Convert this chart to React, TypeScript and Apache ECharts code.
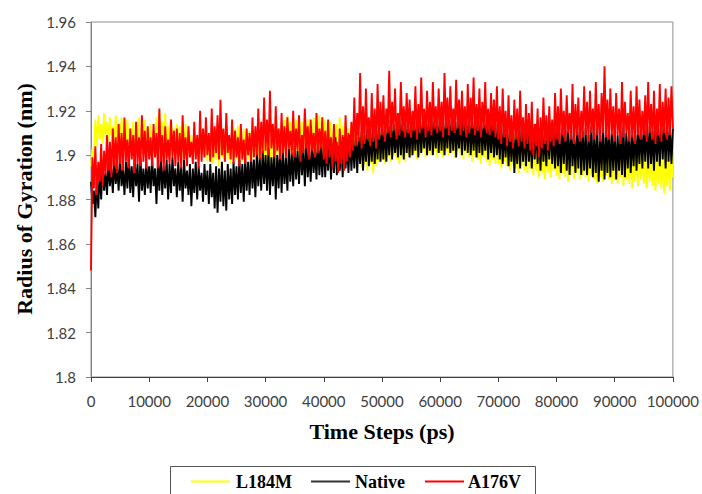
import React, { useEffect, useRef } from "react";
import * as echarts from "echarts";

// Time step between stored samples (ps)
const STEP = 250;

const xTicks = [0, 10000, 20000, 30000, 40000, 50000, 60000, 70000, 80000, 90000, 100000];
const yTicks = [1.8, 1.82, 1.84, 1.86, 1.88, 1.9, 1.92, 1.94, 1.96];

const seriesNames = ["L184M", "Native", "A176V"];
const seriesColors = ["#FFFF00", "#000000", "#FF0000"];

const l184m = [
  1.895, 1.903, 1.899, 1.916, 1.904, 1.918, 1.907, 1.914, 1.905, 1.919, 1.908, 1.915, 1.906, 1.917, 1.909, 1.913, 1.905, 1.918, 1.907, 1.914,
  1.904, 1.917, 1.906, 1.913, 1.903, 1.916, 1.905, 1.912, 1.902, 1.915, 1.904, 1.911, 1.903, 1.917, 1.901, 1.913, 1.904, 1.916, 1.902, 1.912,
  1.9, 1.914, 1.903, 1.911, 1.899, 1.917, 1.902, 1.92, 1.9, 1.915, 1.903, 1.919, 1.901, 1.913, 1.899, 1.916, 1.902, 1.912, 1.9, 1.914,
  1.901, 1.913, 1.898, 1.91, 1.902, 1.914, 1.899, 1.911, 1.901, 1.909, 1.897, 1.912, 1.9, 1.908, 1.898, 1.911, 1.901, 1.909, 1.899, 1.912,
  1.897, 1.907, 1.899, 1.905, 1.896, 1.909, 1.898, 1.906, 1.895, 1.908, 1.899, 1.904, 1.897, 1.91, 1.898, 1.907, 1.896, 1.911, 1.899, 1.912,
  1.898, 1.913, 1.9, 1.91, 1.897, 1.912, 1.899, 1.909, 1.898, 1.911, 1.896, 1.908, 1.899, 1.91, 1.897, 1.907, 1.899, 1.909, 1.898, 1.906,
  1.897, 1.905, 1.899, 1.907, 1.896, 1.906, 1.898, 1.909, 1.9, 1.912, 1.899, 1.914, 1.901, 1.916, 1.9, 1.918, 1.902, 1.915, 1.901, 1.917,
  1.902, 1.916, 1.9, 1.918, 1.903, 1.915, 1.901, 1.919, 1.9, 1.916, 1.902, 1.914, 1.901, 1.917, 1.899, 1.915, 1.902, 1.918, 1.9, 1.914,
  1.901, 1.916, 1.903, 1.913, 1.9, 1.915, 1.902, 1.912, 1.899, 1.914, 1.901, 1.917, 1.898, 1.913, 1.9, 1.915, 1.897, 1.912, 1.899, 1.914,
  1.897, 1.911, 1.895, 1.913, 1.898, 1.909, 1.894, 1.912, 1.896, 1.91, 1.893, 1.913, 1.896, 1.911, 1.892, 1.909, 1.895, 1.912, 1.897, 1.91,
  1.898, 1.912, 1.896, 1.91, 1.899, 1.913, 1.897, 1.911, 1.9, 1.914, 1.898, 1.912, 1.896, 1.91, 1.899, 1.913, 1.897, 1.911, 1.9, 1.914,
  1.899, 1.913, 1.901, 1.911, 1.898, 1.914, 1.9, 1.912, 1.902, 1.915, 1.899, 1.913, 1.901, 1.916, 1.9, 1.912, 1.902, 1.914, 1.899, 1.913,
  1.901, 1.914, 1.899, 1.912, 1.902, 1.915, 1.9, 1.913, 1.901, 1.916, 1.899, 1.912, 1.902, 1.914, 1.9, 1.913, 1.898, 1.915, 1.901, 1.912,
  1.899, 1.913, 1.897, 1.911, 1.9, 1.914, 1.898, 1.912, 1.896, 1.91, 1.899, 1.913, 1.897, 1.911, 1.895, 1.909, 1.898, 1.912, 1.896, 1.91,
  1.896, 1.91, 1.894, 1.908, 1.897, 1.911, 1.895, 1.909, 1.893, 1.907, 1.896, 1.91, 1.894, 1.908, 1.892, 1.906, 1.895, 1.909, 1.893, 1.907,
  1.892, 1.906, 1.894, 1.908, 1.891, 1.905, 1.893, 1.907, 1.89, 1.904, 1.892, 1.906, 1.889, 1.905, 1.892, 1.907, 1.89, 1.904, 1.893, 1.906,
  1.891, 1.905, 1.889, 1.903, 1.892, 1.906, 1.89, 1.904, 1.888, 1.903, 1.891, 1.906, 1.889, 1.904, 1.892, 1.905, 1.889, 1.903, 1.891, 1.906,
  1.89, 1.904, 1.888, 1.906, 1.891, 1.903, 1.889, 1.905, 1.887, 1.904, 1.89, 1.906, 1.888, 1.903, 1.891, 1.905, 1.889, 1.904, 1.887, 1.903,
  1.889, 1.905, 1.887, 1.903, 1.89, 1.904, 1.886, 1.902, 1.889, 1.905, 1.887, 1.903, 1.885, 1.901, 1.888, 1.904, 1.886, 1.902, 1.889, 1.903,
  1.887, 1.902, 1.885, 1.9, 1.888, 1.903, 1.886, 1.901, 1.884, 1.899, 1.887, 1.902, 1.885, 1.9, 1.883, 1.901, 1.886, 1.899, 1.884, 1.902,
  1.89,
];

const native = [
  1.888, 1.878, 1.884, 1.872, 1.89, 1.876, 1.893, 1.88, 1.896, 1.884, 1.892, 1.882, 1.897, 1.886, 1.894, 1.883, 1.898, 1.887, 1.895, 1.884,
  1.899, 1.886, 1.894, 1.882, 1.897, 1.885, 1.9, 1.883, 1.895, 1.881, 1.898, 1.886, 1.896, 1.879, 1.899, 1.884, 1.894, 1.882, 1.897, 1.885,
  1.895, 1.883, 1.899, 1.886, 1.894, 1.878, 1.897, 1.884, 1.9, 1.882, 1.895, 1.885, 1.898, 1.88, 1.896, 1.883, 1.899, 1.886, 1.894, 1.881,
  1.897, 1.884, 1.895, 1.879, 1.898, 1.885, 1.893, 1.882, 1.896, 1.877, 1.894, 1.883, 1.897, 1.88, 1.895, 1.884, 1.892, 1.879, 1.896, 1.882,
  1.893, 1.878, 1.896, 1.881, 1.892, 1.876, 1.895, 1.874, 1.894, 1.879, 1.897, 1.877, 1.893, 1.875, 1.896, 1.88, 1.894, 1.878, 1.897, 1.882,
  1.895, 1.88, 1.898, 1.883, 1.896, 1.879, 1.899, 1.884, 1.897, 1.882, 1.9, 1.885, 1.898, 1.881, 1.901, 1.886, 1.899, 1.884, 1.902, 1.887,
  1.9, 1.884, 1.903, 1.882, 1.899, 1.886, 1.902, 1.88, 1.9, 1.885, 1.904, 1.883, 1.901, 1.887, 1.899, 1.884, 1.903, 1.888, 1.901, 1.886,
  1.904, 1.889, 1.902, 1.887, 1.905, 1.891, 1.903, 1.886, 1.906, 1.89, 1.902, 1.888, 1.905, 1.892, 1.903, 1.889, 1.907, 1.891, 1.904, 1.89,
  1.906, 1.89, 1.904, 1.893, 1.907, 1.889, 1.905, 1.892, 1.908, 1.891, 1.904, 1.893, 1.906, 1.89, 1.908, 1.894, 1.905, 1.892, 1.909, 1.893,
  1.907, 1.894, 1.91, 1.892, 1.908, 1.896, 1.911, 1.893, 1.909, 1.897, 1.912, 1.895, 1.91, 1.897, 1.913, 1.896, 1.911, 1.898, 1.914, 1.897,
  1.912, 1.898, 1.915, 1.897, 1.913, 1.9, 1.916, 1.898, 1.914, 1.901, 1.912, 1.899, 1.917, 1.9, 1.914, 1.898, 1.916, 1.901, 1.913, 1.899,
  1.917, 1.9, 1.914, 1.902, 1.916, 1.899, 1.918, 1.901, 1.915, 1.903, 1.917, 1.9, 1.914, 1.902, 1.918, 1.9, 1.915, 1.903, 1.917, 1.901,
  1.916, 1.902, 1.918, 1.9, 1.915, 1.903, 1.919, 1.901, 1.916, 1.902, 1.918, 1.899, 1.915, 1.903, 1.917, 1.9, 1.919, 1.902, 1.916, 1.901,
  1.918, 1.9, 1.915, 1.902, 1.917, 1.899, 1.916, 1.901, 1.918, 1.9, 1.914, 1.902, 1.917, 1.898, 1.915, 1.901, 1.916, 1.899, 1.914, 1.9,
  1.913, 1.898, 1.915, 1.896, 1.912, 1.899, 1.914, 1.895, 1.911, 1.897, 1.913, 1.892, 1.91, 1.896, 1.912, 1.894, 1.914, 1.897, 1.911, 1.895,
  1.913, 1.897, 1.91, 1.894, 1.912, 1.898, 1.914, 1.896, 1.911, 1.893, 1.913, 1.897, 1.91, 1.895, 1.912, 1.898, 1.914, 1.896, 1.911, 1.894,
  1.913, 1.895, 1.91, 1.892, 1.912, 1.896, 1.914, 1.893, 1.911, 1.891, 1.913, 1.895, 1.909, 1.892, 1.912, 1.894, 1.914, 1.891, 1.911, 1.893,
  1.912, 1.891, 1.909, 1.894, 1.913, 1.89, 1.91, 1.892, 1.912, 1.888, 1.909, 1.893, 1.913, 1.889, 1.911, 1.892, 1.914, 1.89, 1.91, 1.893,
  1.912, 1.889, 1.909, 1.893, 1.911, 1.891, 1.913, 1.89, 1.91, 1.894, 1.912, 1.892, 1.909, 1.895, 1.913, 1.893, 1.911, 1.896, 1.914, 1.894,
  1.912, 1.897, 1.915, 1.894, 1.913, 1.896, 1.911, 1.893, 1.914, 1.897, 1.912, 1.895, 1.915, 1.898, 1.913, 1.894, 1.916, 1.897, 1.912, 1.896,
  1.912,
];

const a176v = [
  1.848, 1.899, 1.885, 1.904, 1.882, 1.897, 1.888, 1.905, 1.886, 1.902, 1.891, 1.909, 1.893, 1.906, 1.89, 1.912, 1.895, 1.908, 1.892, 1.914,
  1.896, 1.91, 1.893, 1.917, 1.897, 1.907, 1.894, 1.912, 1.898, 1.909, 1.892, 1.915, 1.896, 1.908, 1.895, 1.918, 1.897, 1.911, 1.894, 1.913,
  1.898, 1.908, 1.895, 1.914, 1.899, 1.91, 1.894, 1.921, 1.897, 1.909, 1.893, 1.913, 1.898, 1.907, 1.896, 1.916, 1.899, 1.911, 1.895, 1.912,
  1.897, 1.91, 1.894, 1.918, 1.898, 1.908, 1.895, 1.913, 1.899, 1.906, 1.896, 1.915, 1.898, 1.909, 1.894, 1.92, 1.897, 1.912, 1.899, 1.917,
  1.9, 1.91, 1.897, 1.921, 1.899, 1.913, 1.901, 1.918, 1.898, 1.925, 1.9, 1.912, 1.897, 1.919, 1.901, 1.909, 1.898, 1.916, 1.896, 1.911,
  1.899, 1.908, 1.895, 1.914, 1.898, 1.907, 1.896, 1.912, 1.9, 1.91, 1.897, 1.917, 1.899, 1.913, 1.9, 1.921, 1.898, 1.915, 1.901, 1.926,
  1.902, 1.916, 1.9, 1.929, 1.903, 1.914, 1.899, 1.922, 1.902, 1.912, 1.898, 1.919, 1.901, 1.913, 1.899, 1.917, 1.903, 1.911, 1.9, 1.92,
  1.899, 1.912, 1.902, 1.918, 1.897, 1.909, 1.901, 1.921, 1.903, 1.913, 1.898, 1.916, 1.902, 1.91, 1.899, 1.919, 1.901, 1.912, 1.903, 1.917,
  1.898, 1.911, 1.896, 1.916, 1.899, 1.908, 1.894, 1.914, 1.897, 1.906, 1.892, 1.912, 1.896, 1.909, 1.893, 1.918, 1.897, 1.91, 1.899, 1.915,
  1.902, 1.926, 1.904, 1.919, 1.906, 1.937, 1.903, 1.922, 1.905, 1.93, 1.907, 1.917, 1.904, 1.928, 1.906, 1.921, 1.903, 1.932, 1.907, 1.924,
  1.909, 1.927, 1.906, 1.921, 1.91, 1.938, 1.908, 1.924, 1.911, 1.93, 1.907, 1.919, 1.909, 1.933, 1.911, 1.922, 1.908, 1.928, 1.91, 1.925,
  1.908, 1.92, 1.911, 1.931, 1.907, 1.923, 1.91, 1.935, 1.912, 1.921, 1.908, 1.929, 1.911, 1.924, 1.909, 1.933, 1.912, 1.922, 1.91, 1.93,
  1.911, 1.924, 1.908, 1.937, 1.912, 1.926, 1.909, 1.931, 1.911, 1.921, 1.91, 1.934, 1.912, 1.925, 1.909, 1.929, 1.911, 1.922, 1.908, 1.932,
  1.91, 1.926, 1.912, 1.935, 1.909, 1.923, 1.911, 1.93, 1.908, 1.924, 1.912, 1.933, 1.91, 1.921, 1.909, 1.928, 1.911, 1.925, 1.908, 1.931,
  1.907, 1.922, 1.905, 1.93, 1.908, 1.92, 1.904, 1.927, 1.906, 1.918, 1.903, 1.925, 1.907, 1.921, 1.904, 1.929, 1.906, 1.917, 1.903, 1.923,
  1.905, 1.919, 1.902, 1.924, 1.9, 1.914, 1.904, 1.921, 1.899, 1.917, 1.903, 1.926, 1.905, 1.918, 1.902, 1.922, 1.906, 1.916, 1.904, 1.928,
  1.907, 1.922, 1.905, 1.93, 1.909, 1.92, 1.906, 1.927, 1.91, 1.919, 1.907, 1.932, 1.905, 1.923, 1.909, 1.926, 1.906, 1.92, 1.908, 1.931,
  1.909, 1.924, 1.906, 1.929, 1.91, 1.921, 1.907, 1.933, 1.909, 1.923, 1.906, 1.928, 1.91, 1.94, 1.908, 1.925, 1.907, 1.93, 1.909, 1.922,
  1.906, 1.928, 1.909, 1.921, 1.905, 1.933, 1.908, 1.924, 1.91, 1.919, 1.906, 1.929, 1.908, 1.922, 1.905, 1.931, 1.909, 1.925, 1.907, 1.92,
  1.909, 1.927, 1.906, 1.933, 1.91, 1.923, 1.907, 1.929, 1.905, 1.921, 1.909, 1.932, 1.906, 1.924, 1.91, 1.93, 1.907, 1.926, 1.909, 1.931,
  1.912,
];

const allValues = [l184m, native, a176v];

const toPairs = (vals: number[]) => vals.map((v, i) => [i * STEP, v]);

// Legend layout (pixels)
const legendBox = { x: 170, y: 466, w: 365, h: 40 };
const legendItems = [
  { lineX: 191, textX: 236 },
  { lineX: 311, textX: 355 },
  { lineX: 425, textX: 468 },
];

export default function App() {
  const ref = useRef<HTMLDivElement>(null);
  useEffect(() => {
    if (!ref.current) return;
    const chart = echarts.init(ref.current, null, { renderer: "svg" });
    const labelFont = "Lato";
    const serif = "Liberation Serif";
    const legendGraphics: any[] = [
      {
        type: "rect",
        shape: { x: legendBox.x + 0.5, y: legendBox.y + 0.5, width: legendBox.w, height: legendBox.h },
        style: { fill: "#ffffff", stroke: "#555555", lineWidth: 1 },
        z: 10,
      },
    ];
    legendItems.forEach((it, k) => {
      legendGraphics.push({
        type: "line",
        shape: { x1: it.lineX, y1: 481.5, x2: it.lineX + 39, y2: 481.5 },
        style: { stroke: seriesColors[k] === "#000000" ? "#333333" : seriesColors[k], lineWidth: 2 },
        z: 11,
      });
      legendGraphics.push({
        type: "text",
        x: it.textX,
        y: 482,
        style: {
          text: seriesNames[k],
          fontFamily: serif,
          fontWeight: "bold",
          fontSize: 18,
          fill: "#000000",
          align: "left",
          verticalAlign: "middle",
        },
        z: 11,
      });
    });
    chart.setOption({
      animation: false,
      backgroundColor: "#ffffff",
      grid: {
        left: 91,
        right: 29,
        top: 22,
        bottom: 117,
        show: true,
        borderColor: "#8c8c8c",
        borderWidth: 1,
        backgroundColor: "transparent",
      },
      xAxis: {
        type: "value",
        min: xTicks[0],
        max: xTicks[xTicks.length - 1],
        interval: 10000,
        axisLine: { show: true, onZero: false, lineStyle: { color: "#404040", width: 1 } },
        axisTick: { show: true, inside: false, length: 5, lineStyle: { color: "#404040" } },
        splitLine: { show: false },
        axisLabel: {
          margin: 16,
          color: "#404040",
          fontSize: 15,
          fontFamily: labelFont,
          formatter: (v: number) => String(v),
        },
      },
      yAxis: {
        type: "value",
        min: yTicks[0],
        max: yTicks[yTicks.length - 1],
        interval: 0.02,
        axisLine: { show: true, lineStyle: { color: "#868686", width: 1 } },
        axisTick: { show: true, inside: false, length: 5, lineStyle: { color: "#868686" } },
        splitLine: { show: false },
        axisLabel: {
          margin: 15,
          color: "#404040",
          fontSize: 15,
          fontFamily: labelFont,
          formatter: (v: number) => String(parseFloat(v.toFixed(2))),
        },
      },
      graphic: [
        {
          type: "text",
          x: 382,
          y: 431,
          style: {
            text: "Time Steps (ps)",
            fontFamily: serif,
            fontWeight: "bold",
            fontSize: 22,
            fill: "#000000",
            align: "center",
            verticalAlign: "middle",
          },
        },
        {
          type: "text",
          x: 24,
          y: 199,
          rotation: Math.PI / 2,
          style: {
            text: "Radius of Gyration (nm)",
            fontFamily: serif,
            fontWeight: "bold",
            fontSize: 22,
            fill: "#000000",
            align: "center",
            verticalAlign: "middle",
          },
        },
        ...legendGraphics,
      ],
      series: seriesNames.map((name, k) => ({
        name,
        type: "line",
        data: toPairs(allValues[k]),
        symbol: "none",
        showSymbol: false,
        lineStyle: { color: seriesColors[k], width: 1.9 },
        itemStyle: { color: seriesColors[k] },
        z: 2 + k,
      })),
    });
    return () => chart.dispose();
  }, []);
  return (
    <div
      ref={ref}
      style={{ position: "fixed", left: 0, top: 0, width: 702, height: 494 }}
    />
  );
}
